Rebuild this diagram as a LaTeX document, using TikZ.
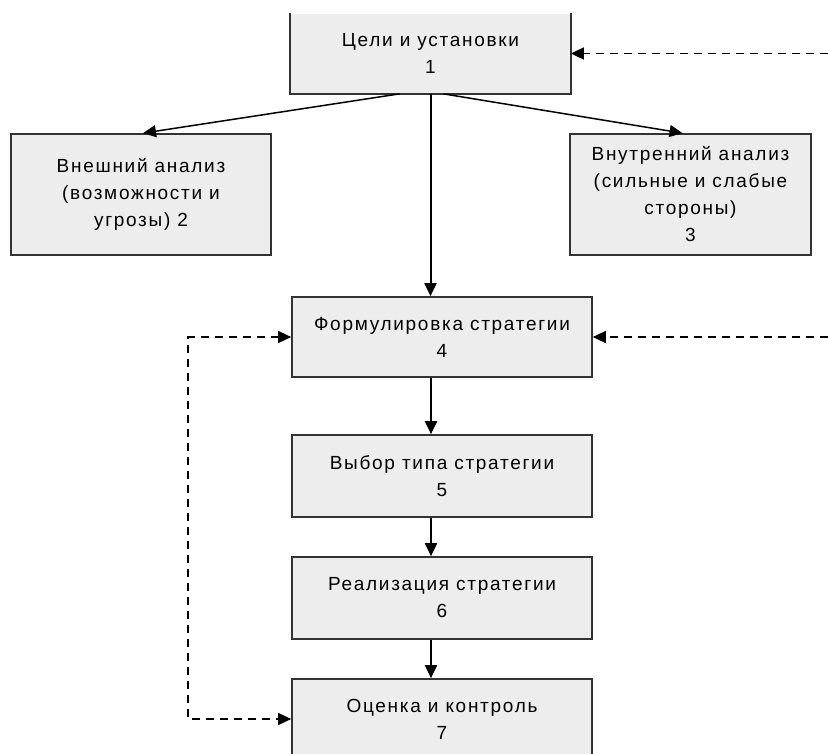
\documentclass[tikz,border=0pt]{standalone}
\usepackage{fontspec}
\setmainfont{Liberation Sans}[LetterSpace=9]
\usetikzlibrary{arrows.meta}

\tikzset{
  blok/.style={draw=black!80, fill=black!7, line width=1.7pt, align=center,
    inner sep=0pt, font=\fontsize{19}{27}\selectfont},
  strel/.style={-{Triangle[length=13pt,width=12pt]}, line width=2pt},
  pstrel/.style={strel, dash pattern=on 8pt off 6pt, line width=1.6pt}
}

\begin{document}
\begin{tikzpicture}[x=1pt,y=-1pt]
            \useasboundingbox (0,0) rectangle (828,753);
            \clip (0,0) rectangle (828,753);

            \node[blok, draw=none, minimum width=279pt, minimum height=79pt] (b1) at (430.5,53.5) {Цели и установки\\1};
            \draw[line width=1.7pt, black!80] (b1.north west) -- (b1.south west) -- (b1.south east) -- (b1.north east);

            \node[blok, minimum width=260pt, minimum height=121pt] (b2) at (141,194.5) {Внешний анализ\\(возможности и\\угрозы) 2};
            \node[blok, minimum width=241pt, minimum height=121pt] (b3) at (690.5,194.5) {Внутренний анализ\\(сильные и слабые\\стороны)\\3};

            \node[blok, minimum width=300pt, minimum height=80pt] (b4) at (442,337) {Формулировка стратегии\\4};
            \node[blok, minimum width=300pt, minimum height=82pt] (b5) at (442,476) {Выбор типа стратегии\\5};
            \node[blok, minimum width=300pt, minimum height=82pt] (b6) at (442,598) {Реализация стратегии\\6};
            \node[blok, minimum width=300pt, minimum height=80pt] (b7) at (442,719) {Оценка и контроль\\7};

            \coordinate (r1) at (828,53.5);
            \coordinate (r4) at (828,337);

            \draw[strel, line width=1.5pt] ([xshift=-31pt]b1.south) -- ([xshift=2pt]b2.north);
            \draw[strel, line width=1.5pt] ([xshift=13pt]b1.south) -- ([xshift=-8pt]b3.north);
            \draw[strel] (b1.south) -- (b1.south |- b4.north);
            \draw[strel] ([xshift=-11pt]b4.south) -- ([xshift=-11pt]b5.north);
            \draw[strel] ([xshift=-11pt]b5.south) -- ([xshift=-11pt]b6.north);
            \draw[strel] ([xshift=-11pt]b6.south) -- ([xshift=-11pt]b7.north);

            \draw[pstrel] (r1) -- (b1.east);
            \draw[pstrel] (r4) -- (b4.east);
            \draw[pstrel, {Triangle[length=13pt,width=12pt]}-{Triangle[length=13pt,width=12pt]}] (b4.west) -- ++(-103,0) |- (b7.west);
\end{tikzpicture}
\end{document}
